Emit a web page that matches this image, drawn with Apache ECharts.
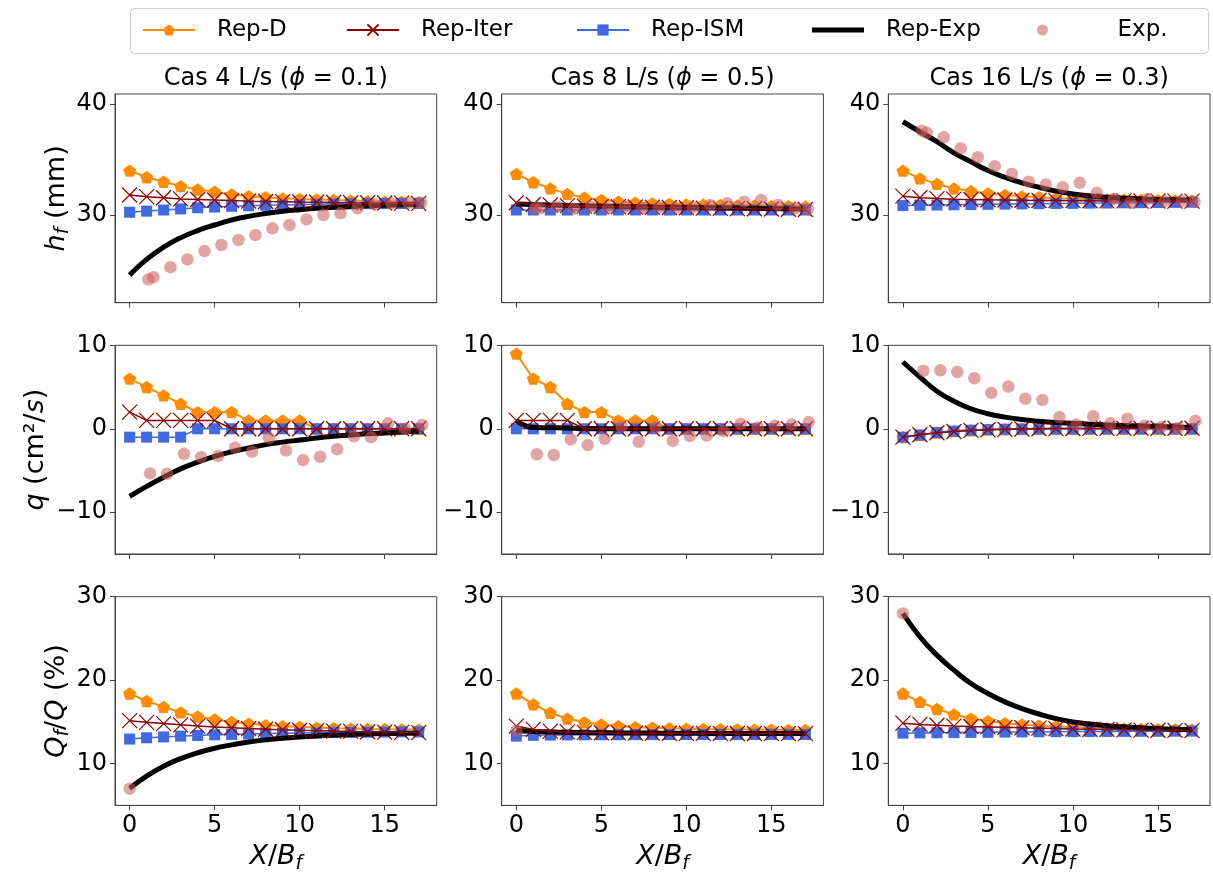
<!DOCTYPE html>
<html>
<head>
<meta charset="utf-8">
<script src="https://cdn.jsdelivr.net/npm/echarts@6/dist/echarts.min.js"></script>
<style>
html,body{margin:0;padding:0;background:#fff;}
#chart{width:1213px;height:877px;}
</style>
</head>
<body>
<div id="chart"></div>
<script>
// ---------------- DATA ----------------
const xModel = [0,1,2,3,4,5,6,7,8,9,10,11,12,13,14,15,16,17];
const xObsH = [1.1,1.4,2.4,3.4,4.4,5.4,6.4,7.4,8.4,9.4,10.4,11.4,12.4,13.4,14.4,15.4,16.4,17.15];
const xObsQ = [1.2,2.2,3.2,4.2,5.2,6.2,7.2,8.2,9.2,10.2,11.2,12.2,13.2,14.2,15.2,16.2,17.2];
const xObsQf = [0];

const caseTitles = ['Cas 4 L/s', 'Cas 8 L/s', 'Cas 16 L/s'];
const casePhi = ['0.1', '0.5', '0.3'];
const seriesNames = ['Rep-D', 'Rep-Iter', 'Rep-ISM', 'Rep-Exp', 'Exp.'];

const xTicks = [0, 5, 10, 15];
const hTicks = [30, 40];
const qTicks = [-10, 0, 10];
const qfTicks = [10, 20, 30];

// Row 1 : h_f (mm)
const h4_D    = [34.0,33.4,33.0,32.6,32.3,32.1,31.85,31.7,31.6,31.5,31.45,31.4,31.35,31.3,31.25,31.2,31.2,31.15];
const h4_Iter = [31.8,31.65,31.55,31.45,31.4,31.35,31.3,31.25,31.22,31.2,31.17,31.15,31.13,31.1,31.1,31.08,31.07,31.05];
const h4_ISM  = [30.25,30.35,30.45,30.55,30.65,30.72,30.78,30.83,30.87,30.9,30.93,30.96,30.98,31.0,31.02,31.03,31.04,31.05];
const h4_Exp  = [24.6,26.0,27.1,27.95,28.6,29.1,29.55,29.88,30.13,30.33,30.48,30.6,30.7,30.77,30.83,30.88,30.92,30.95];
const h4_obs  = [24.2,24.4,25.3,26.0,26.75,27.3,27.75,28.2,28.8,29.1,29.6,30.0,30.15,30.6,30.95,31.05,31.1,31.1];

const h8_D    = [33.7,32.95,32.4,31.9,31.55,31.35,31.2,31.1,31.05,31.0,30.95,30.92,30.9,30.87,30.85,30.82,30.8,30.78];
const h8_Iter = [31.1,30.95,30.9,30.85,30.8,30.77,30.75,30.72,30.7,30.68,30.65,30.62,30.6,30.58,30.56,30.54,30.52,30.5];
const h8_ISM  = [30.45,30.45,30.45,30.45,30.45,30.45,30.45,30.45,30.45,30.45,30.45,30.45,30.45,30.45,30.45,30.45,30.45,30.45];
const h8_Exp  = [31.0,30.95,30.9,30.86,30.83,30.8,30.78,30.75,30.72,30.7,30.68,30.66,30.64,30.62,30.6,30.58,30.56,30.55];
const h8_obs  = [30.6,30.6,30.75,30.57,30.75,30.6,30.75,30.6,30.69,30.66,30.69,30.9,31.05,31.2,31.35,30.9,30.6,30.5];

const h16_D    = [34.0,33.3,32.8,32.4,32.15,31.95,31.8,31.68,31.6,31.52,31.47,31.43,31.4,31.37,31.35,31.33,31.32,31.3];
const h16_Iter = [31.7,31.55,31.48,31.43,31.4,31.37,31.35,31.33,31.31,31.3,31.29,31.28,31.27,31.27,31.26,31.26,31.25,31.25];
const h16_ISM  = [30.85,30.88,30.9,30.92,30.94,30.96,30.98,31.0,31.02,31.04,31.05,31.07,31.08,31.1,31.11,31.12,31.14,31.15];
const h16_Exp  = [38.4,37.5,36.6,35.6,34.8,34.0,33.4,32.9,32.5,32.15,31.9,31.72,31.6,31.52,31.45,31.4,31.37,31.35];
const h16_obs  = [37.6,37.4,37.0,36.0,35.2,34.4,33.7,33.0,32.75,32.5,32.9,32.0,31.45,31.1,31.45,31.25,31.25,31.2];

// Row 2 : q (cm2/s)
const q4_D    = [6,5,4,3,2,2,2,1,1,1,1,0,0,0,0,0,0,0];
const q4_Iter = [2,1,1,1,1,1,0,0,0,0,0,0,0,0,0,0,0,0];
const q4_ISM  = [-1,-1,-1,-1,0,0,0,0,0,0,0,0,0,0,0,0,0,0];
const q4_Exp  = [-8.1,-6.9,-5.8,-4.8,-4.0,-3.3,-2.75,-2.3,-1.9,-1.6,-1.35,-1.1,-0.9,-0.75,-0.6,-0.5,-0.4,-0.3];
const q4_obs  = [-5.35,-5.4,-3.0,-3.4,-3.25,-2.25,-2.75,-1.1,-2.6,-3.75,-3.35,-2.45,-0.9,-1.0,0.65,0.0,0.45];

const q8_D    = [9,6,5,3,2,2,1,1,1,0,0,0,0,0,0,0,0,0];
const q8_Iter = [1,1,1,1,0,0,0,0,0,0,0,0,0,0,0,0,0,0];
const q8_ISM  = [0,0,0,0,0,0,0,0,0,0,0,0,0,0,0,0,0,0];
const q8_Exp  = [1.0,0.15,0.13,0.1,0.02,0,0,0,0,0,0,0,0,0,0,0,0,0];
const q8_obs  = [-3.05,-3.15,-1.25,-1.95,-1.2,0.25,-1.55,0.15,-1.45,-0.85,-0.8,-0.3,0.6,0.15,0.35,0.5,0.8];

const q16_D    = [-1.0,-0.75,-0.45,-0.28,-0.17,-0.1,-0.05,-0.02,0,0,0,0,0,0,0,0,0,0];
const q16_Iter = [-1.0,-0.72,-0.48,-0.32,-0.2,-0.12,-0.07,-0.03,0,0.02,0.03,0.04,0.05,0.05,0.06,0.06,0.06,0.06];
const q16_ISM  = [-1.0,-0.75,-0.45,-0.28,-0.17,-0.1,-0.05,-0.02,0,0,0,0,0,0,0,0,0,0];
const q16_Exp  = [8.0,6.2,4.5,3.3,2.4,1.8,1.4,1.1,0.9,0.75,0.65,0.55,0.45,0.4,0.33,0.27,0.22,0.18];
const q16_obs  = [6.95,7.0,6.8,6.05,4.3,5.05,3.6,3.45,1.4,0.5,1.5,0.65,1.2,0.35,0.2,0.1,0.95];

// Row 3 : Qf/Q (%)
const qf4_D    = [18.4,17.5,16.8,16.15,15.65,15.3,15.0,14.8,14.62,14.5,14.4,14.32,14.25,14.2,14.15,14.12,14.1,14.08];
const qf4_Iter = [15.15,14.95,14.8,14.65,14.5,14.4,14.3,14.2,14.12,14.06,14.0,13.95,13.9,13.86,13.82,13.78,13.75,13.72];
const qf4_ISM  = [12.95,13.1,13.2,13.3,13.38,13.45,13.5,13.55,13.6,13.63,13.66,13.69,13.72,13.74,13.76,13.78,13.8,13.8];
const qf4_Exp  = [7.05,8.5,9.7,10.6,11.3,11.85,12.25,12.6,12.85,13.05,13.2,13.32,13.42,13.49,13.55,13.6,13.63,13.65];
const qf4_obs  = [7.0];

const qf8_D    = [18.4,17.1,16.1,15.4,14.95,14.7,14.5,14.38,14.3,14.24,14.2,14.16,14.13,14.1,14.08,14.06,14.05,14.04];
const qf8_Iter = [14.5,14.1,13.9,13.8,13.75,13.7,13.68,13.66,13.65,13.64,13.63,13.62,13.62,13.61,13.61,13.6,13.6,13.6];
const qf8_ISM  = [13.3,13.4,13.42,13.44,13.45,13.46,13.47,13.48,13.48,13.49,13.49,13.5,13.5,13.5,13.5,13.5,13.5,13.5];
const qf8_Exp  = [14.0,13.85,13.8,13.75,13.72,13.7,13.68,13.67,13.66,13.65,13.64,13.63,13.62,13.62,13.61,13.61,13.6,13.6];
const qf8_obs  = [13.95];

const qf16_D    = [18.4,17.4,16.55,15.9,15.4,15.1,14.85,14.7,14.55,14.45,14.38,14.3,14.25,14.2,14.16,14.13,14.1,14.08];
const qf16_Iter = [14.85,14.7,14.6,14.5,14.45,14.4,14.35,14.3,14.25,14.2,14.15,14.12,14.1,14.05,14.02,14.0,13.98,13.95];
const qf16_ISM  = [13.65,13.68,13.7,13.72,13.74,13.76,13.78,13.8,13.82,13.83,13.84,13.85,13.86,13.87,13.88,13.88,13.89,13.9];
const qf16_Exp  = [28.0,25.2,23.0,21.2,19.6,18.4,17.4,16.6,15.95,15.4,15.0,14.75,14.55,14.42,14.3,14.2,14.12,14.05];
const qf16_obs  = [28.0];

// ---------------- BUILD ----------------
const FONT = 'DejaVu Sans';
const C_D = '#FF8C00', C_ITER = '#8B0000', C_ISM = '#4169E1', C_EXP = '#000000', C_OBS = 'rgba(205,92,92,0.7)';
const PENT = 'path://M0.5,0 L1,0.363 L0.809,0.951 L0.191,0.951 L0,0.363 Z';
const XMARK = 'path://M0,0 L1,1 M1,0 L0,1';

const rows = [
  { xObs: xObsH, yMin: 22.1, yMax: 40.9, ticks: hTicks,
    name: '{i|h}{s|f} (mm)',
    panels: [[h4_D,h4_Iter,h4_ISM,h4_Exp,h4_obs],[h8_D,h8_Iter,h8_ISM,h8_Exp,h8_obs],[h16_D,h16_Iter,h16_ISM,h16_Exp,h16_obs]] },
  { xObs: xObsQ, yMin: -15, yMax: 10, ticks: qTicks,
    name: '{i|q} (cm\u00B2/{i|s})',
    panels: [[q4_D,q4_Iter,q4_ISM,q4_Exp,q4_obs],[q8_D,q8_Iter,q8_ISM,q8_Exp,q8_obs],[q16_D,q16_Iter,q16_ISM,q16_Exp,q16_obs]] },
  { xObs: xObsQf, yMin: 5, yMax: 30, ticks: qfTicks,
    name: '{i|Q}{s|f}/{i|Q} (%)',
    panels: [[qf4_D,qf4_Iter,qf4_ISM,qf4_Exp,qf4_obs],[qf8_D,qf8_Iter,qf8_ISM,qf8_Exp,qf8_obs],[qf16_D,qf16_Iter,qf16_ISM,qf16_Exp,qf16_obs]] }
];

const colLeft = [115, 501.7, 888.3];
const rowTop = [94, 345.3, 596.7];
const W = 321.7, H = 208.7;
const NAME_FS = 27;

const richStyles = {
  i: { fontStyle: 'italic', fontSize: NAME_FS, fontFamily: FONT, color: '#000' },
  s: { fontStyle: 'italic', fontSize: 19, fontFamily: FONT, color: '#000', verticalAlign: 'bottom', lineHeight: 15 }
};

const grids = [], xAxes = [], yAxes = [], series = [];
const fmtMinus = v => String(v).replace('-', '\u2212');

rows.forEach((row, r) => {
  row.panels.forEach((p, c) => {
    const gi = grids.length;
    grids.push({ left: colLeft[c], top: rowTop[r], width: W, height: H,
      show: true, borderColor: '#444', borderWidth: 1, backgroundColor: '#fff' });
    xAxes.push({
      type: 'value', gridIndex: gi, min: -0.86, max: 18.06,
      splitLine: { show: false },
      axisLine: { show: true, onZero: false, lineStyle: { color: '#444', width: 1 } },
      axisTick: { show: true, length: 5, customValues: xTicks, lineStyle: { color: '#444' } },
      axisLabel: { show: r === 2, customValues: xTicks, fontSize: 24, fontFamily: FONT, color: '#000', margin: 8 },
      name: r === 2 ? '{i|X}/{i|B}{s|f}' : '',
      nameLocation: 'middle', nameGap: 36,
      nameTextStyle: { fontSize: NAME_FS, fontFamily: FONT, color: '#000', lineHeight: 32, rich: richStyles }
    });
    yAxes.push({
      type: 'value', gridIndex: gi, min: row.yMin, max: row.yMax,
      splitLine: { show: false },
      axisLine: { show: true, onZero: false, lineStyle: { color: '#444', width: 1 } },
      axisTick: { show: true, length: 5, customValues: row.ticks, lineStyle: { color: '#444' } },
      axisLabel: { customValues: row.ticks, fontSize: 24, fontFamily: FONT, color: '#000', margin: 8, formatter: fmtMinus },
      name: c === 0 ? row.name : '',
      nameLocation: 'middle', nameGap: 42,
      nameTextStyle: { fontSize: NAME_FS, fontFamily: FONT, color: '#000', lineHeight: 32, rich: richStyles }
    });
    const pair = (xs, ys) => ys.map((y, i) => [xs[i], y]);
    const common = { xAxisIndex: gi, yAxisIndex: gi, animation: false, emphasis: { disabled: true }, silent: true };
    series.push(Object.assign({}, common, {
      name: 'Rep-D', type: 'line', z: 2, data: pair(xModel, p[0]),
      symbol: PENT, symbolSize: 13, symbolKeepAspect: true,
      itemStyle: { color: C_D }, lineStyle: { color: C_D, width: 2 }
    }));
    series.push(Object.assign({}, common, {
      name: 'Rep-ISM', type: 'line', z: 3, data: pair(xModel, p[2]),
      symbol: 'rect', symbolSize: 11,
      itemStyle: { color: C_ISM }, lineStyle: { color: C_ISM, width: 1.5 }
    }));
    series.push(Object.assign({}, common, {
      name: 'Rep-Exp', type: 'line', z: 4, data: pair(xModel, p[3]),
      symbol: 'none', smooth: 0.5,
      itemStyle: { color: C_EXP }, lineStyle: { color: C_EXP, width: 5 }
    }));
    series.push(Object.assign({}, common, {
      name: 'Rep-Iter', type: 'line', z: 5, data: pair(xModel, p[1]),
      symbol: XMARK, symbolSize: 15, showAllSymbol: true,
      itemStyle: { color: 'rgba(0,0,0,0)', borderColor: C_ITER, borderWidth: 1.2 },
      lineStyle: { color: C_ITER, width: 1.5 }
    }));
    series.push(Object.assign({}, common, {
      name: 'Exp.', type: 'scatter', z: 6, data: pair(row.xObs, p[4]),
      symbol: 'circle', symbolSize: 12.5,
      itemStyle: { color: C_OBS }
    }));
  });
});

// legends: one per entry, matplotlib-like spacing
const legendLefts = [142, 346, 576, 812, 1037];
const legendIcons = [null, null, null, 'rect', 'circle'];
const legendItemH = [14, 14, 14, 5, 11];
const legendPad = [17, 17, 17, 17, 44];
const legends = seriesNames.map((n, k) => {
  const item = { name: n };
  if (legendIcons[k]) item.icon = legendIcons[k];
  return {
    data: [item], left: legendLefts[k], top: 17, padding: 0,
    itemWidth: 52, itemHeight: legendItemH[k], selectedMode: false,
    textStyle: { fontSize: 23, fontFamily: FONT, color: '#000', padding: [0, 0, 0, legendPad[k]], lineHeight: 26 }
  };
});

const graphics = [
  { type: 'rect', shape: { x: 130.5, y: 8.5, width: 1078, height: 45, r: 4 },
    style: { fill: '#fff', stroke: '#cccccc', lineWidth: 1 }, z: -1 }
];
caseTitles.forEach((t, c) => {
  graphics.push({
    type: 'text', x: colLeft[c] + W / 2, y: 79,
    style: {
      text: t + ' ({i|\u03D5} = ' + casePhi[c] + ')',
      fontSize: 24, fontFamily: FONT, fill: '#000',
      align: 'center', verticalAlign: 'middle',
      rich: { i: { fontStyle: 'italic', fontSize: 24, fontFamily: FONT, fill: '#000' } }
    }
  });
});

const chart = echarts.init(document.getElementById('chart'), null, { renderer: 'canvas' });
chart.setOption({
  animation: false,
  backgroundColor: '#fff',
  grid: grids, xAxis: xAxes, yAxis: yAxes,
  legend: legends,
  graphic: graphics,
  series: series
});
</script>
</body>
</html>
